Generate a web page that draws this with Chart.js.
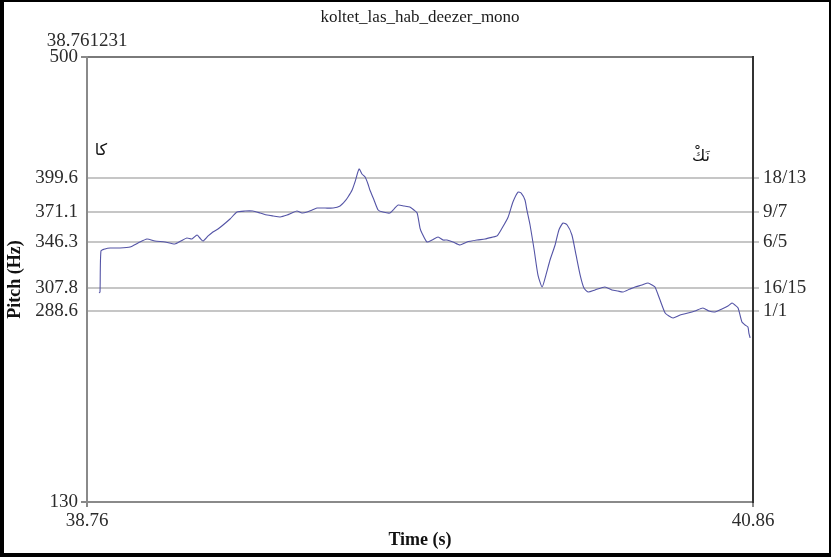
<!DOCTYPE html>
<html lang="en">
<head>
<meta charset="UTF-8">
<title>koltet_las_hab_deezer_mono</title>
<script src="https://cdn.jsdelivr.net/npm/chart.js@4.4.0/dist/chart.umd.min.js"></script>
<style>
    html, body {
        margin: 0;
        padding: 0;
        background: #fff;
    }
    .frame {
        width: 831px;
        height: 557px;
        box-sizing: border-box;
        border-style: solid;
        border-color: #000;
        border-width: 2px 2px 4px 4px;
    }
    .frame .plot {
        position: relative;
        width: 825px;
        height: 551px;
    }
</style>
</head>
<body>
<div class="frame"><div class="plot"><canvas id="pitchChart"></canvas></div></div>
<script>
    // Pitch track (time in s, pitch in Hz)
    const times = [
        38.798, 38.801, 38.804, 38.817, 38.833, 38.864, 38.896, 38.921, 38.949, 38.974,
        39.006, 39.037, 39.056, 39.075, 39.091, 39.107, 39.116, 39.126, 39.142, 39.157,
        39.173, 39.189, 39.211, 39.233, 39.258, 39.283, 39.306, 39.328, 39.347, 39.369,
        39.391, 39.406, 39.422, 39.438, 39.454, 39.470, 39.485, 39.511, 39.536, 39.558,
        39.574, 39.583, 39.596, 39.605, 39.618, 39.627, 39.637, 39.646, 39.652, 39.665,
        39.678, 39.693, 39.715, 39.728, 39.741, 39.760, 39.778, 39.791, 39.801, 39.810,
        39.816, 39.832, 39.848, 39.867, 39.883, 39.895, 39.914, 39.936, 39.958, 39.990,
        40.015, 40.040, 40.053, 40.069, 40.088, 40.103, 40.119, 40.129, 40.141, 40.147,
        40.157, 40.170, 40.182, 40.195, 40.207, 40.220, 40.236, 40.248, 40.261, 40.274,
        40.289, 40.302, 40.315, 40.327, 40.340, 40.362, 40.393, 40.415, 40.434, 40.450,
        40.472, 40.488, 40.510, 40.529, 40.542, 40.551, 40.567, 40.583, 40.595, 40.608,
        40.630, 40.655, 40.677, 40.702, 40.721, 40.740, 40.762, 40.781, 40.794, 40.803,
        40.813, 40.825, 40.835, 40.844, 40.847, 40.851
    ];
    const pitch = [
        303.8, 304.6, 338.7, 340.4, 341.2, 341.2, 342.0, 345.3, 348.7, 347.0,
        346.2, 344.5, 347.0, 349.5, 348.7, 352.0, 349.5, 347.0, 351.2, 354.5,
        357.0, 360.3, 365.3, 371.1, 371.9, 371.9, 370.3, 368.6, 367.8, 367.0,
        368.6, 370.3, 371.9, 370.3, 371.1, 372.8, 374.4, 374.4, 374.4, 376.1,
        380.3, 383.6, 389.4, 396.1, 406.9, 402.7, 400.2, 394.4, 389.4, 381.1,
        372.8, 371.1, 370.3, 373.6, 376.9, 376.1, 375.3, 372.8, 370.3, 357.8,
        353.7, 346.2, 347.8, 350.3, 347.8, 347.8, 346.2, 343.7, 346.2, 347.8,
        348.7, 350.3, 351.2, 357.8, 367.0, 379.4, 387.7, 386.9, 381.1, 372.8,
        360.3, 339.5, 318.7, 308.8, 318.7, 331.2, 343.7, 356.2, 362.0, 360.3,
        352.0, 335.4, 318.7, 307.9, 304.6, 306.3, 308.8, 306.3, 305.4, 304.6,
        307.1, 308.8, 310.4, 312.1, 310.4, 308.8, 297.9, 287.1, 284.6, 283.0,
        285.5, 287.1, 288.8, 291.3, 288.8, 288.0, 290.5, 293.0, 295.5, 293.8,
        291.3, 279.7, 277.2, 275.5, 270.5, 266.4
    ];

    // Axis ranges and labels
    const tMin = 38.76;
    const tMax = 40.86;
    const startLabel = '38.761231';
    const hzMin = 130;
    const hzMax = 500;
    const gridHz = [288.6, 307.8, 346.3, 371.1, 399.6];
    const ratioLabels = ['1/1', '16/15', '6/5', '9/7', '18/13'];

    // Syllables written above the track
    const syllables = ['كا', 'نَكْ'];
    const syllableTimes = [38.804, 40.696];
    const syllableHz = [422, 417];

    const serif = "'Liberation Serif', 'Times New Roman', serif";
    const tickColor = '#2b2b2b';
    const gridColor = '#c6c6c6';
    const leftTicks = [hzMin, ...gridHz, hzMax];
    const isEdge = v => v === hzMin || v === hzMax;

    const syllablePlugin = {
        id: 'syllables',
        afterDatasetsDraw(chart) {
            const { ctx, scales: { x, y } } = chart;
            ctx.save();
            ctx.font = "16px 'DejaVu Sans'";
            ctx.fillStyle = '#111';
            ctx.textAlign = 'center';
            ctx.textBaseline = 'middle';
            syllables.forEach((s, i) => {
                ctx.fillText(s, x.getPixelForValue(syllableTimes[i]), y.getPixelForValue(syllableHz[i]));
            });
            ctx.restore();
        }
    };

    new Chart(document.getElementById('pitchChart'), {
        type: 'line',
        data: {
            datasets: [{
                data: times.map((t, i) => ({ x: t, y: pitch[i] })),
                borderColor: '#5454a6',
                borderWidth: 1.1,
                pointRadius: 0,
                tension: 0.2,
                xAxisID: 'x',
                yAxisID: 'y'
            }]
        },
        options: {
            responsive: true,
            maintainAspectRatio: false,
            animation: false,
            layout: { padding: 0 },
            plugins: {
                legend: { display: false },
                tooltip: { enabled: false }
            },
            scales: {
                x: {
                    type: 'linear',
                    position: 'bottom',
                    min: tMin,
                    max: tMax,
                    afterBuildTicks: s => { s.ticks = [{ value: tMin }, { value: tMax }]; },
                    afterFit: s => { s.height = 51; },
                    ticks: {
                        callback: v => v.toFixed(2),
                        font: { family: serif, size: 19 },
                        color: tickColor,
                        padding: 3,
                        maxRotation: 0,
                        autoSkip: false
                    },
                    grid: { drawOnChartArea: false, drawTicks: true, tickLength: 5, tickColor: '#888', lineWidth: 2 },
                    border: { display: true, color: '#8a8a8a', width: 2 },
                    title: {
                        display: true,
                        text: 'Time (s)',
                        font: { family: serif, size: 18, weight: 'bold' },
                        color: '#111',
                        padding: { top: 0, bottom: 2 }
                    }
                },
                xt: {
                    type: 'linear',
                    position: 'top',
                    min: tMin,
                    max: tMax,
                    afterBuildTicks: s => { s.ticks = [{ value: tMin }]; },
                    afterFit: s => { s.height = 55; },
                    ticks: {
                        callback: () => startLabel,
                        font: { family: serif, size: 19 },
                        color: tickColor,
                        padding: 5,
                        maxRotation: 0,
                        autoSkip: false
                    },
                    grid: { display: false, drawTicks: false },
                    border: { display: true, color: '#7a7a7a', width: 2 },
                    title: {
                        display: true,
                        text: 'koltet_las_hab_deezer_mono',
                        font: { family: serif, size: 17 },
                        color: '#1a1a1a',
                        padding: { top: 5, bottom: 0 }
                    }
                },
                y: {
                    type: 'linear',
                    position: 'left',
                    min: hzMin,
                    max: hzMax,
                    afterBuildTicks: s => { s.ticks = leftTicks.map(v => ({ value: v })); },
                    afterFit: s => { s.width = 83; },
                    ticks: {
                        callback: v => Number.isInteger(v) ? String(v) : v.toFixed(1),
                        font: { family: serif, size: 19 },
                        color: tickColor,
                        padding: 3,
                        autoSkip: false
                    },
                    grid: {
                        color: c => isEdge(c.tick.value) ? 'rgba(0,0,0,0)' : gridColor,
                        tickColor: c => isEdge(c.tick.value) ? '#888' : 'rgba(0,0,0,0)',
                        lineWidth: 2,
                        drawTicks: true,
                        tickLength: 6
                    },
                    border: { display: true, color: '#8a8a8a', width: 2 },
                    title: {
                        display: true,
                        text: 'Pitch (Hz)',
                        font: { family: serif, size: 18, weight: 'bold' },
                        color: '#111',
                        padding: { top: 1, bottom: 0 }
                    }
                },
                yr: {
                    type: 'linear',
                    position: 'right',
                    min: hzMin,
                    max: hzMax,
                    afterBuildTicks: s => { s.ticks = gridHz.map(v => ({ value: v })); },
                    afterFit: s => { s.width = 76; },
                    ticks: {
                        callback: (v, i) => ratioLabels[i],
                        font: { family: serif, size: 19 },
                        color: tickColor,
                        padding: 4,
                        autoSkip: false
                    },
                    grid: { drawOnChartArea: false, drawTicks: true, tickLength: 6, tickColor: gridColor, lineWidth: 2 },
                    border: { display: true, color: '#333', width: 2 }
                }
            }
        },
        plugins: [syllablePlugin]
    });
</script>
</body>
</html>
